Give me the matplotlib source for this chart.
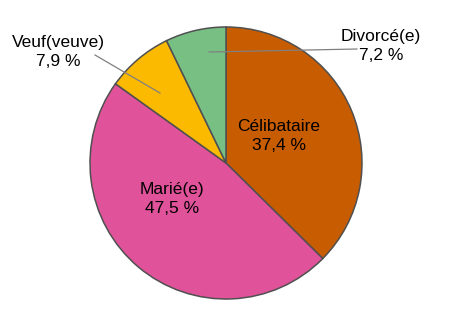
import matplotlib

matplotlib.use("Agg")
import matplotlib.pyplot as plt

plt.rcParams["font.family"] = ["Liberation Sans", "DejaVu Sans"]

categories = ["Célibataire", "Marié(e)", "Veuf(veuve)", "Divorcé(e)"]
shares = [37.4, 47.5, 7.9, 7.2]
colors = ["#C85C00", "#E0539A", "#FBB900", "#78BF84"]

W, H = 469, 316
fig = plt.figure(figsize=(W / 100, H / 100), dpi=100)
ax = fig.add_axes([0, 0, 1, 1])

cx, cy, r = 226, H - 163, 136
ax.pie(
    shares,
    colors=colors,
    startangle=90,
    counterclock=False,
    center=(cx, cy),
    radius=r,
    frame=True,
    wedgeprops={"edgecolor": "#505050", "linewidth": 1.1},
)
ax.set_xlim(0, W)
ax.set_ylim(0, H)
ax.axis("off")


def label(i):
    return f"{categories[i]}\n{shares[i]:.1f} %".replace(".", ",")


fs = 12.5
ls = 1.3
# inside labels
ax.text(279, H - 136, label(0), ha="center", va="center", fontsize=fs, linespacing=ls)
ax.text(172, H - 199, label(1), ha="center", va="center", fontsize=fs, linespacing=ls)

# outside labels with leader lines
ax.plot([95, 160], [H - 55, H - 93], color="#808080", lw=0.9)
ax.text(58, H - 52, label(2), ha="center", va="center", fontsize=fs, linespacing=ls)
ax.plot([209, 357], [H - 52, H - 49], color="#808080", lw=0.9)
ax.text(381, H - 46, label(3), ha="center", va="center", fontsize=fs, linespacing=ls)

fig.savefig("out.png", dpi=100)
